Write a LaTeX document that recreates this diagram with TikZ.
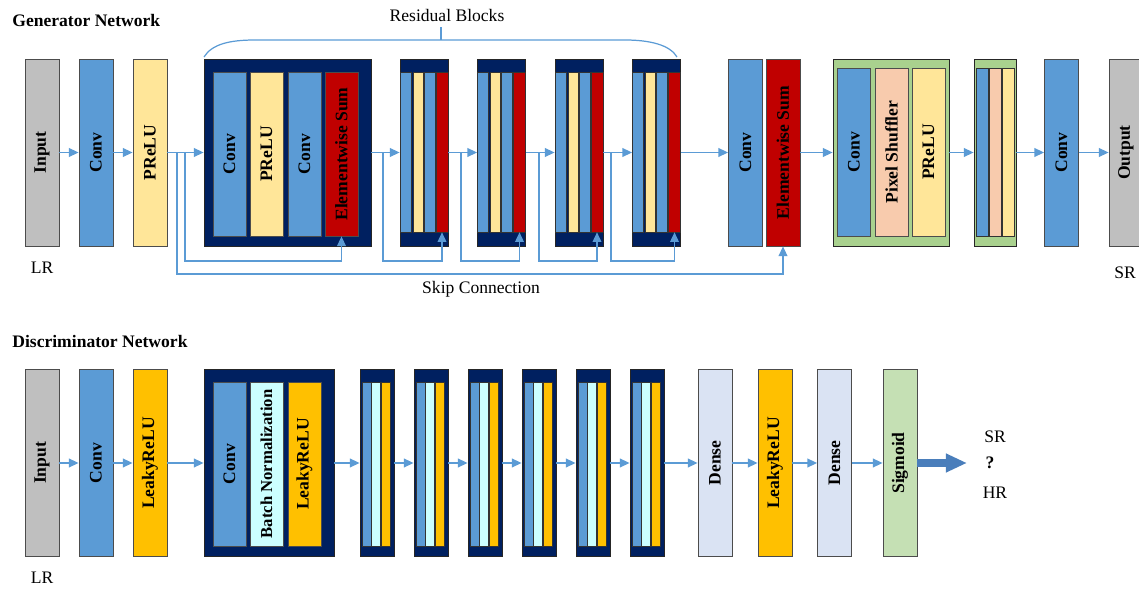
\documentclass[tikz,border=0pt]{standalone}
\usepackage{fontspec}
\setmainfont{Liberation Serif}
\usetikzlibrary{arrows.meta}

\definecolor{inputgray}{HTML}{BFBFBF}
\definecolor{convblue}{HTML}{5B9BD5}
\definecolor{preluyellow}{HTML}{FFE699}
\definecolor{sumred}{HTML}{C00000}
\definecolor{blocknavy}{HTML}{002060}
\definecolor{upgreen}{HTML}{A9D18E}
\definecolor{shufflepink}{HTML}{F8CBAD}
\definecolor{leakyorange}{HTML}{FFC000}
\definecolor{bncyan}{HTML}{CCFFFF}
\definecolor{denselilac}{HTML}{DAE3F3}
\definecolor{sigmoidgreen}{HTML}{C5E0B4}
\definecolor{linkblue}{HTML}{5B9BD5}
\definecolor{outarrow}{HTML}{4A7EBB}

\newcommand{\uptext}[1]{\rotatebox{90}{#1}}

\tikzset{
  netlayer/.style={draw=black!70, fill=#1, line width=0.5pt, inner sep=0pt,
    minimum width=0.68cm, minimum height=3.74cm, font=\bfseries},
  blockbox/.style={draw=black!85, fill=#1, line width=0.5pt, inner sep=0pt,
    minimum height=3.74cm},
  thinbar/.style={draw=black!80, fill=#1, line width=0.4pt, inner sep=0pt},
  flow/.style={draw=linkblue, line width=0.7pt, -{Triangle[length=5.5pt,width=5pt]}},
  bigarrow/.style={draw=outarrow, line width=4.5pt, -{Triangle[length=12pt,width=10pt]}},
}

\begin{document}
\begin{tikzpicture}[x=0.02cm, y=-0.02cm]
\useasboundingbox (0,0) rectangle (1139,590);
\clip (0,0) rectangle (1139,590);

%% generator
\node[anchor=west, font=\bfseries, inner sep=0pt] (gtitle) at (12,20) {Generator Network};
\node[netlayer=inputgray] (gin) at (42,152.5) {\uptext{Input}};
\node[netlayer=convblue] (gconv1) at (96,152.5) {\uptext{Conv}};
\node[netlayer=preluyellow] (gprelu) at (150,152.5) {\uptext{PReLU}};
\node (glr) at (42,268) {LR};

% first residual block, drawn out
\node[blockbox=blocknavy, minimum width=3.34cm] (rb1) at (287.5,152.5) {};
\node[netlayer=convblue, minimum width=0.66cm, minimum height=3.28cm] (rb1a) at (229.5,154) {\uptext{Conv}};
\node[netlayer=preluyellow, minimum width=0.66cm, minimum height=3.28cm] (rb1b) at (266.5,154) {\uptext{PReLU}};
\node[netlayer=convblue, minimum width=0.66cm, minimum height=3.28cm] (rb1c) at (304.5,154) {\uptext{Conv}};
\node[netlayer=sumred, minimum width=0.66cm, minimum height=3.28cm] (rb1d) at (341.5,154) {\uptext{Elementwise Sum}};

% the other residual blocks
\foreach \i/\x in {2/424, 3/501.5, 4/579, 5/656.5} {
  \node[blockbox=blocknavy, minimum width=0.96cm] (rb\i) at (\x,152.5) {};
  \node[thinbar=convblue, minimum width=0.22cm, minimum height=3.2cm] at (\x-18.5,152) {};
  \node[thinbar=preluyellow, minimum width=0.2cm, minimum height=3.2cm] at (\x-6,152) {};
  \node[thinbar=convblue, minimum width=0.22cm, minimum height=3.2cm] at (\x+5.5,152) {};
  \node[thinbar=sumred, minimum width=0.24cm, minimum height=3.2cm] (sum\i) at (\x+18,152) {};
}

\node[netlayer=convblue] (gconv2) at (745.5,152.5) {\uptext{Conv}};
\node[netlayer=sumred] (gsum) at (783,152.5) {\uptext{Elementwise Sum}};

% upsampling
\node[blockbox=upgreen, minimum width=2.32cm] (up1) at (891,152.5) {};
\node[netlayer=convblue, minimum width=0.66cm, minimum height=3.36cm] (up1a) at (854,152) {\uptext{Conv}};
\node[netlayer=shufflepink, minimum width=0.66cm, minimum height=3.36cm] (up1b) at (891.5,152) {\uptext{Pixel Shuffler}};
\node[netlayer=preluyellow, minimum width=0.66cm, minimum height=3.36cm] (up1c) at (928.5,152) {\uptext{PReLU}};
\node[blockbox=upgreen, minimum width=0.84cm] (up2) at (995,152.5) {};
\node[thinbar=convblue, minimum width=0.24cm, minimum height=3.36cm] at (982,152) {};
\node[thinbar=shufflepink, minimum width=0.24cm, minimum height=3.36cm] at (995,152) {};
\node[thinbar=preluyellow, minimum width=0.24cm, minimum height=3.36cm] at (1008,152) {};

\node[netlayer=convblue] (gconv3) at (1061.5,152.5) {\uptext{Conv}};
\node[netlayer=inputgray] (gout) at (1126,152.5) {\uptext{Output}};
\node (gsr) at (1125,273) {SR};

\draw[flow] (gin) -- (gconv1);
\draw[flow] (gconv1) -- (gprelu);
\draw[flow] (gprelu) -- (rb1);
\foreach \a/\b in {1/2, 2/3, 3/4, 4/5}
  \draw[flow] (rb\a) -- (rb\b);
\draw[flow] (rb5) -- (gconv2);
\draw[flow] (gsum) -- (up1);
\draw[flow] (up1) -- (up2);
\draw[flow] (up2) -- (gconv3);
\draw[flow] (gconv3) -- (gout);

% skip connections
\coordinate (gskip) at (177,152.5);
\coordinate (rskip1) at (185,152.5);
\draw[flow] (rskip1) -- ++(0,108.5) -| (rb1d.south);
\draw[flow] (gskip) -- ++(0,121.5) -| (gsum.south);
\foreach \b/\s in {2/383, 3/461, 4/539, 5/611} {
  \coordinate (rskip\b) at (\s,152.5);
  \draw[flow] (rskip\b) -- ++(0,108.5) -| (sum\b.south);
}
\node (skiptext) at (481,289) {Skip Connection};

% brace over the residual blocks
\node (rbtitle) at (447,15) {Residual Blocks};
\draw[linkblue, line width=0.7pt] (204,57) .. controls (212,44) and (230,40) .. (255,40)
  -- (625,40) .. controls (650,40) and (670,45) .. (677,57);
\draw[linkblue, line width=0.7pt] (441,40) -- (441,27);

%% discriminator
\node[anchor=west, font=\bfseries, inner sep=0pt] (dtitle) at (12,341) {Discriminator Network};
\node[netlayer=inputgray] (din) at (42,463) {\uptext{Input}};
\node[netlayer=convblue] (dconv) at (96,463) {\uptext{Conv}};
\node[netlayer=leakyorange] (dleaky) at (150,463) {\uptext{LeakyReLU}};
\node (dlr) at (42,578) {LR};

\node[blockbox=blocknavy, minimum width=2.6cm] (db1) at (269,463) {};
\node[netlayer=convblue, minimum width=0.66cm, minimum height=3.28cm] (db1a) at (229.5,464) {\uptext{Conv}};
\node[netlayer=bncyan, minimum width=0.66cm, minimum height=3.28cm] (db1b) at (266.5,464) {\uptext{\fontsize{9.5}{11}\selectfont Batch Normalization}};
\node[netlayer=leakyorange, minimum width=0.66cm, minimum height=3.28cm] (db1c) at (304.5,464) {\uptext{LeakyReLU}};

\foreach \i/\x in {2/377, 3/431, 4/485, 5/539, 6/593, 7/647} {
  \node[blockbox=blocknavy, minimum width=0.68cm] (db\i) at (\x,463) {};
  \node[thinbar=convblue, minimum width=0.18cm, minimum height=3.28cm] at (\x-10.5,464) {};
  \node[thinbar=bncyan, minimum width=0.17cm, minimum height=3.28cm] at (\x-1,464) {};
  \node[thinbar=leakyorange, minimum width=0.18cm, minimum height=3.28cm] at (\x+8.5,464) {};
}

\node[netlayer=denselilac] (ddense1) at (715,463) {\uptext{Dense}};
\node[netlayer=leakyorange] (dleaky2) at (775,463) {\uptext{LeakyReLU}};
\node[netlayer=denselilac] (ddense2) at (834.5,463) {\uptext{Dense}};
\node[netlayer=sigmoidgreen] (dsig) at (900,463) {\uptext{Sigmoid}};

\draw[flow] (din) -- (dconv);
\draw[flow] (dconv) -- (dleaky);
\draw[flow] (dleaky) -- (db1);
\foreach \a/\b in {1/2, 2/3, 3/4, 4/5, 5/6, 6/7}
  \draw[flow] (db\a) -- (db\b);
\draw[flow] (db7) -- (ddense1);
\draw[flow] (ddense1) -- (dleaky2);
\draw[flow] (dleaky2) -- (ddense2);
\draw[flow] (ddense2) -- (dsig);

\coordinate (verdict) at (967,463);
\draw[bigarrow] (dsig) -- (verdict);
\node (dsr) at (995,437) {SR};
\node (dq) at (990,463) {\textbf{?}};
\node (dhr) at (995,493) {HR};
\end{tikzpicture}
\end{document}
